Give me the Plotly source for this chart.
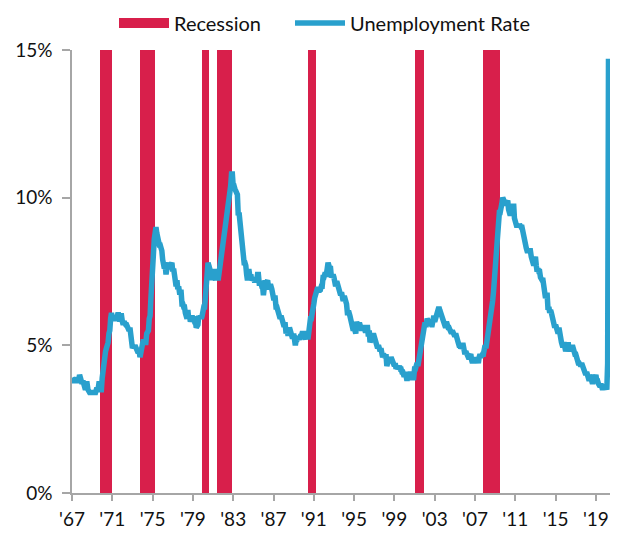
import plotly.graph_objects as go

# Monthly US unemployment rate (%), seasonally adjusted, Jan 1967 - May 2020
rate_1967_1969 = [
    3.9, 3.8, 3.8, 3.8, 3.8, 3.9, 3.8, 3.8, 3.8, 4.0, 3.9, 3.8,
    3.7, 3.8, 3.7, 3.5, 3.5, 3.7, 3.7, 3.5, 3.4, 3.4, 3.4, 3.4,
    3.4, 3.4, 3.4, 3.4, 3.4, 3.5, 3.5, 3.5, 3.7, 3.7, 3.5, 3.5,
]
rate_1970s = [
    3.9, 4.2, 4.4, 4.6, 4.8, 4.9, 5.0, 5.1, 5.4, 5.5, 5.9, 6.1,
    5.9, 5.9, 6.0, 5.9, 5.9, 5.9, 6.0, 6.1, 6.0, 5.8, 6.0, 6.0,
    5.8, 5.7, 5.8, 5.7, 5.7, 5.7, 5.6, 5.6, 5.5, 5.6, 5.3, 5.2,
    4.9, 5.0, 4.9, 5.0, 4.9, 4.9, 4.8, 4.8, 4.8, 4.6, 4.8, 4.9,
    5.1, 5.2, 5.1, 5.1, 5.1, 5.4, 5.5, 5.5, 5.9, 6.0, 6.6, 7.2,
    8.1, 8.1, 8.6, 8.8, 9.0, 8.8, 8.6, 8.4, 8.4, 8.4, 8.3, 8.2,
    7.9, 7.7, 7.6, 7.7, 7.4, 7.6, 7.8, 7.8, 7.6, 7.7, 7.8, 7.8,
    7.5, 7.6, 7.4, 7.2, 7.0, 7.2, 6.9, 7.0, 6.8, 6.8, 6.8, 6.4,
    6.4, 6.3, 6.3, 6.1, 6.0, 5.9, 6.2, 5.9, 6.0, 5.8, 5.9, 6.0,
    5.9, 5.9, 5.8, 5.8, 5.6, 5.7, 5.7, 6.0, 5.9, 6.0, 5.9, 6.0,
]
rate_1980s = [
    6.3, 6.3, 6.3, 6.9, 7.5, 7.6, 7.8, 7.7, 7.5, 7.5, 7.5, 7.2,
    7.5, 7.4, 7.4, 7.2, 7.5, 7.5, 7.2, 7.4, 7.6, 7.9, 8.3, 8.5,
    8.6, 8.9, 9.0, 9.3, 9.4, 9.6, 9.8, 9.8, 10.1, 10.4, 10.8, 10.8,
    10.4, 10.4, 10.3, 10.2, 10.1, 10.1, 9.4, 9.5, 9.2, 8.8, 8.5, 8.3,
    8.0, 7.8, 7.8, 7.7, 7.4, 7.2, 7.5, 7.5, 7.3, 7.4, 7.2, 7.3,
    7.3, 7.2, 7.2, 7.3, 7.2, 7.4, 7.4, 7.1, 7.1, 7.1, 7.0, 7.0,
    6.7, 7.2, 7.2, 7.1, 7.2, 7.2, 7.0, 6.9, 7.0, 7.0, 6.9, 6.6,
    6.6, 6.6, 6.6, 6.3, 6.3, 6.2, 6.1, 6.0, 5.9, 6.0, 5.8, 5.7,
    5.7, 5.7, 5.7, 5.4, 5.6, 5.4, 5.4, 5.6, 5.4, 5.4, 5.3, 5.3,
    5.4, 5.2, 5.0, 5.2, 5.2, 5.3, 5.2, 5.2, 5.3, 5.3, 5.4, 5.4,
]
rate_1990s = [
    5.4, 5.3, 5.2, 5.4, 5.4, 5.2, 5.5, 5.7, 5.9, 5.9, 6.2, 6.3,
    6.4, 6.6, 6.8, 6.7, 6.9, 6.9, 6.8, 6.9, 6.9, 7.0, 7.0, 7.3,
    7.3, 7.4, 7.4, 7.4, 7.6, 7.8, 7.7, 7.6, 7.6, 7.3, 7.4, 7.4,
    7.3, 7.1, 7.0, 7.1, 7.1, 7.0, 6.9, 6.8, 6.7, 6.8, 6.6, 6.5,
    6.6, 6.6, 6.5, 6.4, 6.1, 6.1, 6.1, 6.0, 5.9, 5.8, 5.6, 5.5,
    5.6, 5.4, 5.4, 5.8, 5.6, 5.6, 5.7, 5.7, 5.6, 5.5, 5.6, 5.6,
    5.6, 5.5, 5.5, 5.6, 5.6, 5.3, 5.5, 5.1, 5.2, 5.2, 5.4, 5.4,
    5.3, 5.2, 5.2, 5.1, 4.9, 5.0, 4.9, 4.8, 4.9, 4.7, 4.6, 4.7,
    4.6, 4.6, 4.7, 4.3, 4.4, 4.5, 4.5, 4.5, 4.6, 4.5, 4.4, 4.4,
    4.3, 4.4, 4.2, 4.3, 4.2, 4.3, 4.3, 4.2, 4.2, 4.1, 4.1, 4.0,
]
rate_2000s = [
    4.0, 4.1, 4.0, 3.8, 4.0, 4.0, 4.0, 4.1, 3.9, 3.9, 3.9, 3.9,
    4.2, 4.2, 4.3, 4.4, 4.3, 4.5, 4.6, 4.9, 5.0, 5.3, 5.5, 5.7,
    5.7, 5.7, 5.7, 5.9, 5.8, 5.8, 5.8, 5.7, 5.7, 5.7, 5.9, 6.0,
    5.8, 5.9, 5.9, 6.0, 6.1, 6.3, 6.2, 6.1, 6.1, 6.0, 5.8, 5.7,
    5.7, 5.6, 5.8, 5.6, 5.6, 5.6, 5.5, 5.4, 5.4, 5.5, 5.4, 5.4,
    5.3, 5.4, 5.2, 5.2, 5.1, 5.0, 5.0, 4.9, 5.0, 5.0, 5.0, 4.9,
    4.7, 4.8, 4.7, 4.7, 4.6, 4.6, 4.7, 4.7, 4.5, 4.4, 4.5, 4.4,
    4.6, 4.5, 4.4, 4.5, 4.4, 4.6, 4.7, 4.6, 4.7, 4.7, 4.7, 5.0,
    5.0, 4.9, 5.1, 5.0, 5.4, 5.6, 5.8, 6.1, 6.1, 6.5, 6.8, 7.3,
    7.8, 8.3, 8.7, 9.0, 9.4, 9.5, 9.5, 9.6, 9.8, 10.0, 9.9, 9.9,
]
rate_2010s = [
    9.8, 9.8, 9.9, 9.9, 9.6, 9.4, 9.4, 9.5, 9.5, 9.4, 9.8, 9.3,
    9.1, 9.0, 9.0, 9.1, 9.0, 9.1, 9.0, 9.0, 9.0, 8.8, 8.6, 8.5,
    8.3, 8.3, 8.2, 8.2, 8.2, 8.2, 8.2, 8.0, 7.8, 7.8, 7.7, 7.9,
    8.0, 7.7, 7.5, 7.6, 7.5, 7.5, 7.3, 7.2, 7.2, 7.2, 6.9, 6.7,
    6.6, 6.7, 6.7, 6.2, 6.3, 6.1, 6.2, 6.1, 5.9, 5.7, 5.8, 5.6,
    5.7, 5.5, 5.4, 5.4, 5.6, 5.3, 5.2, 5.1, 5.0, 5.0, 5.1, 5.0,
    4.8, 4.9, 5.0, 5.1, 4.8, 4.9, 4.8, 4.9, 5.0, 4.9, 4.7, 4.7,
    4.7, 4.6, 4.4, 4.4, 4.4, 4.3, 4.3, 4.4, 4.3, 4.2, 4.2, 4.1,
    4.0, 4.1, 4.0, 4.0, 3.8, 4.0, 3.8, 3.8, 3.7, 3.8, 3.8, 3.9,
    4.0, 3.8, 3.8, 3.7, 3.6, 3.6, 3.7, 3.6, 3.5, 3.6, 3.6, 3.6,
]
rate_2020 = [3.6, 3.5, 4.4, 14.7, 13.3]

# NBER recessions, first and last month (inclusive)
recession_start = ["1969-12", "1973-11", "1980-01", "1981-07", "1990-07", "2001-03", "2007-12"]
recession_end = ["1970-11", "1975-03", "1980-07", "1982-11", "1991-03", "2001-11", "2009-06"]

# Axis labels
x_tick_years = [1967, 1971, 1975, 1979, 1983, 1987, 1991, 1995, 1999, 2003, 2007, 2011, 2015, 2019]
x_tick_text = ["'67", "'71", "'75", "'79", "'83", "'87", "'91", "'95", "'99", "'03", "'07", "'11", "'15", "'19"]
y_tick_vals = [0, 5, 10, 15]
y_tick_text = ["0%", "5%", "10%", "15%"]

START_YEAR = 1967
rates = rate_1967_1969 + rate_1970s + rate_1980s + rate_1990s + rate_2000s + rate_2010s + rate_2020
months = [START_YEAR + i / 12 for i in range(len(rates))]


def month_index(s):
    y, m = s.split("-")
    return (int(y) - START_YEAR) * 12 + int(m) - 1


rec_x = []
for a, b in zip(recession_start, recession_end):
    for i in range(month_index(a), month_index(b) + 1):
        rec_x.append(START_YEAR + i / 12)
rec_y = [15] * len(rec_x)

RED = "#D81F4B"
BLUE = "#29A0CD"
AXIS_GREY = "#A6A6A6"
FONT = "Lato"

fig = go.Figure()
fig.add_trace(go.Bar(
    x=rec_x, y=rec_y, width=1 / 12,
    marker=dict(color=RED, line=dict(width=0)),
    showlegend=False, hoverinfo="skip",
))
# legend key for the recession bars
fig.add_trace(go.Scatter(
    x=[None], y=[None], mode="lines", name="Recession",
    line=dict(color=RED, width=13), legend="legend",
))
fig.add_trace(go.Scatter(
    x=months, y=rates, mode="lines", name="Unemployment Rate",
    line=dict(color=BLUE, width=5.5), legend="legend2",
))

legend_style = dict(
    orientation="h", xref="container", xanchor="left",
    yref="container", yanchor="middle", y=1 - 23 / 533,
    itemwidth=50, font=dict(size=20), bgcolor="rgba(0,0,0,0)",
)

fig.update_layout(
    width=626, height=533,
    margin=dict(l=72, r=16, t=50, b=40, autoexpand=False),
    paper_bgcolor="white", plot_bgcolor="white",
    font=dict(family=FONT, size=19, color="#111111"),
    bargap=0,
    legend=dict(legend_style, x=114 / 626),
    legend2=dict(legend_style, x=290 / 626),
    xaxis=dict(
        range=[1967, 2020.4], tickmode="array", tickvals=x_tick_years, ticktext=x_tick_text,
        showgrid=False, zeroline=False, showline=True, linecolor=AXIS_GREY, linewidth=1.5,
        ticks="outside", ticklen=6, tickwidth=1.5, tickcolor=AXIS_GREY,
        ticklabelstandoff=2, automargin=False,
    ),
    yaxis=dict(
        range=[0, 15], tickmode="array", tickvals=y_tick_vals, ticktext=y_tick_text,
        showgrid=False, zeroline=False, showline=True, linecolor=AXIS_GREY, linewidth=1.5,
        ticks="outside", ticklen=8, tickwidth=1.5, tickcolor=AXIS_GREY,
        ticklabelstandoff=6, automargin=False,
    ),
)

fig.write_html("out.html")
